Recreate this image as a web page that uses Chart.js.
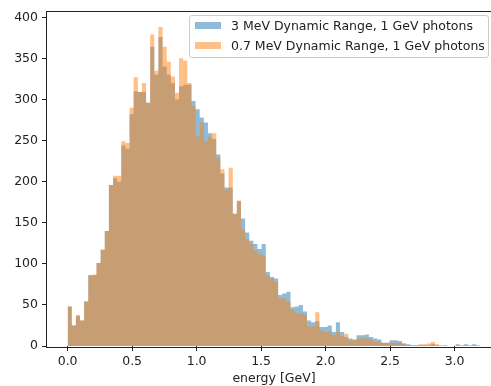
<!DOCTYPE html>
<html>
<head>
<meta charset="utf-8">
<script src="https://cdn.jsdelivr.net/npm/chart.js@4.4.1/dist/chart.umd.min.js"></script>
<style>
  html, body { margin: 0; padding: 0; background: #fff; overflow: hidden; }
  #wrap { position: absolute; left: 0; top: 0; width: 512px; height: 386px; }
  #legend {
    position: absolute; left: 189px; top: 15px; width: 300px; height: 43px;
    box-sizing: border-box; border: 1px solid #cccccc; border-radius: 3px;
    background: rgba(255, 255, 255, 0.8);
    font-family: "DejaVu Sans"; font-size: 12.5px; color: #222;
  }
  .row { position: absolute; left: 5px; height: 14px; line-height: 14px; white-space: nowrap; }
  .patch { position: absolute; left: 0; top: 3px; width: 26px; height: 7px; }
  .label { position: absolute; left: 36px; top: 0; }
</style>
</head>
<body>
<div id="wrap"><canvas id="histChart"></canvas></div>
<div id="legend">
  <div class="row" style="top: 3px;"><span class="patch" style="background: rgba(31,119,180,0.5);"></span><span class="label">3 MeV Dynamic Range, 1 GeV photons</span></div>
  <div class="row" style="top: 23px;"><span class="patch" style="background: rgba(255,127,14,0.5);"></span><span class="label">0.7 MeV Dynamic Range, 1 GeV photons</span></div>
</div>
<script>
// histogram bins: 100 bins of 0.032 GeV starting at 0
const BIN_WIDTH = 0.032;

// counts per bin, 3 MeV dynamic range
const counts3MeV = [
  48, 25, 37, 31, 54, 86, 86, 101, 117, 140,
  196, 204, 200, 244, 240, 282, 310, 309, 309, 296,
  364, 330, 376, 340, 330, 320, 300, 316, 318, 318,
  298, 288, 278, 272, 259, 252, 233, 210, 193, 193,
  161, 176, 155, 138, 128, 124, 118, 124, 90, 84,
  82, 62, 64, 66, 47, 48, 50, 42, 31, 29,
  30, 23, 23, 25, 17, 29, 17, 11, 9, 8,
  13, 13, 14, 11, 9, 8, 4, 4, 7, 7,
  6, 3, 2, 1, 1, 1, 1, 1, 2, 1,
  0, 1, 0, 0, 2, 1, 2, 1, 2, 1
];

// counts per bin, 0.7 MeV dynamic range
const counts07MeV = [
  48, 25, 37, 31, 54, 86, 87, 101, 117, 140,
  196, 207, 207, 249, 247, 290, 327, 309, 320, 296,
  379, 335, 388, 364, 346, 328, 308, 350, 347, 320,
  292, 255, 272, 249, 255, 259, 229, 215, 190, 217,
  161, 177, 142, 130, 124, 116, 112, 110, 86, 82,
  78, 58, 58, 54, 44, 40, 40, 38, 24, 24,
  41, 19, 17, 18, 13, 17, 12, 15, 7, 7,
  9, 10, 9, 8, 5, 6, 4, 4, 4, 4,
  4, 3, 1, 1, 1, 2, 2, 3, 5, 2,
  1, 0, 0, 0, 0, 0, 0, 0, 0, 0
];

const xTicks = [0, 0.5, 1.0, 1.5, 2.0, 2.5, 3.0];
const yTicks = [0, 50, 100, 150, 200, 250, 300, 350, 400];

// left bin edges
const binEdges = counts3MeV.map((_, i) => i * BIN_WIDTH);

// step outline points: one per left edge plus the closing right edge
function toSteps(counts) {
  const pts = counts.map((c, i) => ({ x: binEdges[i], y: c }));
  pts.push({ x: counts.length * BIN_WIDTH, y: counts[counts.length - 1] });
  return pts;
}

// box around the plot area
const frame = {
  id: 'frame',
  afterDatasetsDraw(chart) {
    const { ctx, chartArea: a } = chart;
    ctx.save();
    ctx.strokeStyle = '#222';
    ctx.lineWidth = 1;
    ctx.strokeRect(Math.round(a.left) - 0.5, Math.round(a.top) - 0.5,
      Math.round(a.right - a.left) + 1, Math.round(a.bottom - a.top) + 1);
    ctx.restore();
  }
};

Chart.defaults.font.family = 'DejaVu Sans';
Chart.defaults.font.size = 12.5;
Chart.defaults.color = '#222';

const histDataset = (label, counts, color) => ({
  label: label,
  data: toSteps(counts),
  stepped: 'before',
  fill: 'origin',
  backgroundColor: color,
  borderColor: 'rgba(0,0,0,0)',
  borderWidth: 0,
  pointRadius: 0
});

const axisGrid = { drawOnChartArea: false, drawTicks: true, tickLength: 5, color: '#222', lineWidth: 1 };

new Chart(document.getElementById('histChart'), {
  type: 'line',
  data: {
    datasets: [
      // orange drawn on top of blue
      histDataset('0.7 MeV Dynamic Range, 1 GeV photons', counts07MeV, 'rgba(255,127,14,0.5)'),
      histDataset('3 MeV Dynamic Range, 1 GeV photons', counts3MeV, 'rgba(31,119,180,0.5)')
    ]
  },
  options: {
    responsive: true,
    maintainAspectRatio: false,
    animation: false,
    layout: { padding: { top: 10, right: 11, bottom: 0, left: 0 } },
    plugins: {
      legend: { display: false },
      tooltip: { enabled: false }
    },
    scales: {
      x: {
        type: 'linear',
        min: -0.16,
        max: 3.36,
        afterBuildTicks: axis => { axis.ticks = xTicks.map(v => ({ value: v })); },
        afterFit: axis => { axis.height = 40; },
        grid: axisGrid,
        border: { display: false },
        ticks: { padding: 3, maxRotation: 0, callback: v => Number(v).toFixed(1) },
        title: { display: true, text: 'energy [GeV]', padding: { top: 0, bottom: 0 } }
      },
      y: {
        min: 0,
        max: 407,
        afterBuildTicks: axis => { axis.ticks = yTicks.map(v => ({ value: v })); },
        afterFit: axis => { axis.width = 47; },
        grid: axisGrid,
        border: { display: false },
        ticks: { padding: 4, callback: v => String(v) }
      }
    }
  },
  plugins: [frame]
});
</script>
</body>
</html>
